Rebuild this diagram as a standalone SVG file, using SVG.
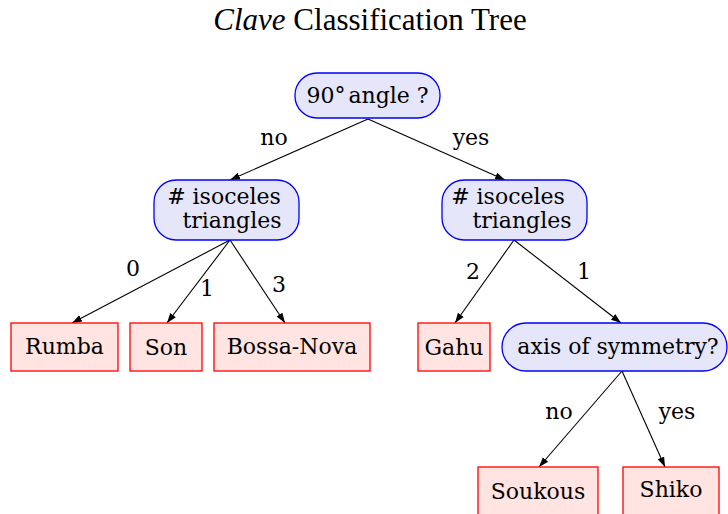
<svg xmlns="http://www.w3.org/2000/svg" width="728" height="514" viewBox="0 0 728 514">
  <style>
    .title { font-family: "Liberation Serif", serif; font-size: 31px; fill: #000; }
    .q rect { fill: #e6e6fa; stroke: #0000ff; stroke-width: 1.3; }
    .leaf rect { fill: #ffe4e1; stroke: #ff0000; stroke-width: 1.3; }
    .lbl { font-family: "DejaVu Serif", serif; font-size: 22px; fill: #000; text-anchor: middle; }
    .elbl { font-family: "DejaVu Serif", serif; font-size: 22px; fill: #000; text-anchor: middle; }
    #edges line { stroke: #000; stroke-width: 1.1; marker-end: url(#arrow); }
  </style>
  <defs>
    <marker id="arrow" viewBox="0 0 10 10" refX="10" refY="5" markerWidth="10" markerHeight="10" markerUnits="userSpaceOnUse" orient="auto">
      <path d="M0,1.5 L10,5 L0,8.5 z" fill="#000"/>
    </marker>
  </defs>
  <rect width="728" height="514" fill="#fff"/>

  <text class="title" x="370" y="30" text-anchor="middle"><tspan font-style="italic">Clave</tspan> Classification Tree</text>

  <g id="edges">
    <line x1="368" y1="119" x2="230" y2="180"/>
    <line x1="368" y1="119" x2="505" y2="180"/>
    <line x1="230" y1="240" x2="72" y2="323"/>
    <line x1="230" y1="240" x2="167" y2="323"/>
    <line x1="230" y1="240" x2="285" y2="323"/>
    <line x1="514" y1="240" x2="455" y2="323"/>
    <line x1="514" y1="240" x2="621" y2="323"/>
    <line x1="622" y1="371" x2="539" y2="467"/>
    <line x1="622" y1="371" x2="665" y2="467"/>
    <text class="elbl" x="274" y="145">no</text>
    <text class="elbl" x="471" y="145">yes</text>
    <text class="elbl" x="133" y="276">0</text>
    <text class="elbl" x="207" y="296">1</text>
    <text class="elbl" x="279" y="292">3</text>
    <text class="elbl" x="473" y="279">2</text>
    <text class="elbl" x="584" y="279">1</text>
    <text class="elbl" x="559" y="419">no</text>
    <text class="elbl" x="677" y="419">yes</text>
  </g>

  <g id="n-angle" class="q">
    <rect x="295" y="73" width="145" height="45" rx="22" ry="22"/>
    <text class="lbl" x="367.5" y="103">90°<tspan dx="3">angle ?</tspan></text>
  </g>
  <g id="n-iso-left" class="q">
    <rect x="154" y="180" width="145" height="60" rx="22" ry="22"/>
    <text class="lbl" x="224" y="204">#  isoceles</text>
    <text class="lbl" x="232" y="228">triangles</text>
  </g>
  <g id="n-iso-right" class="q">
    <rect x="442" y="180" width="145" height="60" rx="22" ry="22"/>
    <text class="lbl" x="508" y="204">#  isoceles</text>
    <text class="lbl" x="522" y="228">triangles</text>
  </g>
  <g id="n-rumba" class="leaf">
    <rect x="11" y="323" width="107" height="48"/>
    <text class="lbl" x="64.5" y="354">Rumba</text>
  </g>
  <g id="n-son" class="leaf">
    <rect x="130" y="323" width="72" height="48"/>
    <text class="lbl" x="166" y="355">Son</text>
  </g>
  <g id="n-bossa" class="leaf">
    <rect x="214" y="323" width="156" height="48"/>
    <text class="lbl" x="292" y="354">Bossa-Nova</text>
  </g>
  <g id="n-gahu" class="leaf">
    <rect x="418" y="323" width="72" height="48"/>
    <text class="lbl" x="454" y="355">Gahu</text>
  </g>
  <g id="n-axis" class="q">
    <rect x="502" y="323" width="225" height="48" rx="24" ry="24"/>
    <text class="lbl" x="618" y="354">axis of symmetry?</text>
  </g>
  <g id="n-soukous" class="leaf">
    <rect x="478" y="467" width="120" height="48"/>
    <text class="lbl" x="538" y="499">Soukous</text>
  </g>
  <g id="n-shiko" class="leaf">
    <rect x="623" y="467" width="96" height="48"/>
    <text class="lbl" x="671" y="497">Shiko</text>
  </g>
</svg>
